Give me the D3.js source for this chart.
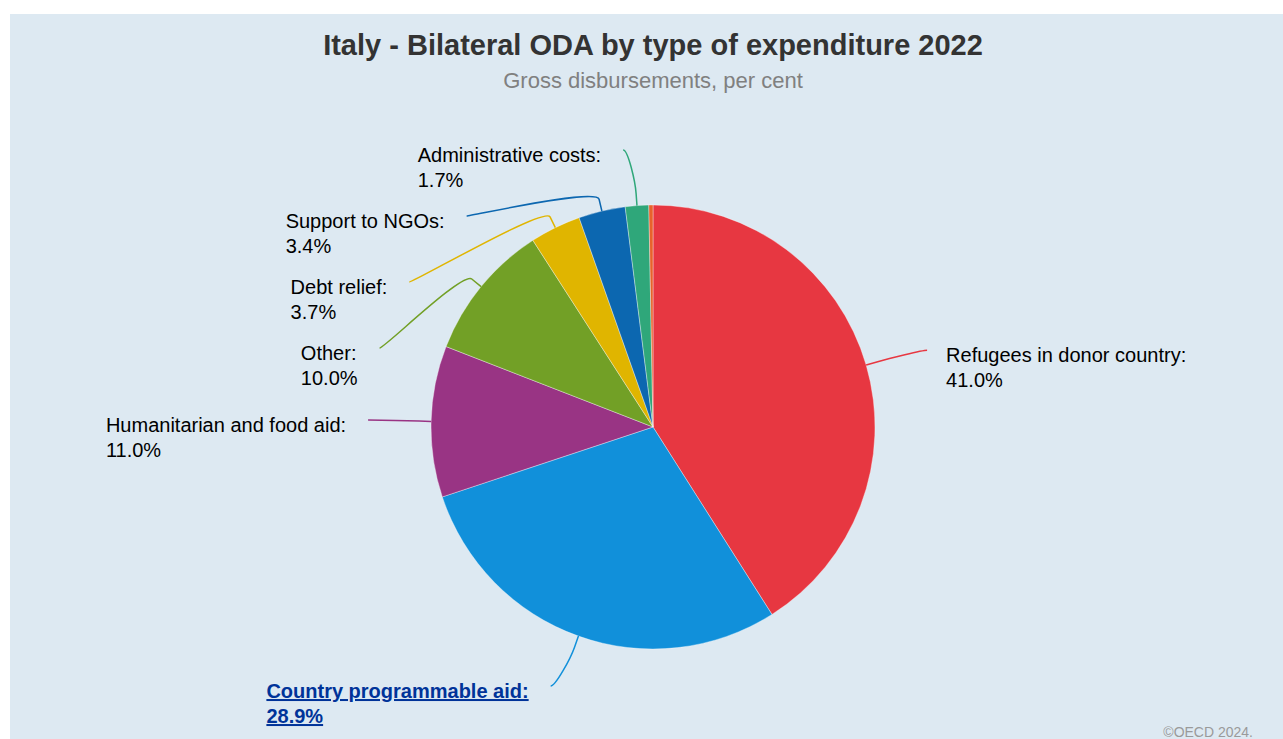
<!DOCTYPE html>
<html>
<head>
<meta charset="utf-8">
<script src="https://cdn.jsdelivr.net/npm/d3@7"></script>
<style>
  html, body { margin: 0; padding: 0; background: #ffffff; overflow: hidden; }
  svg { display: block; }
  text { font-family: "Liberation Sans", Arial, sans-serif; }
</style>
</head>
<body>
<svg id="chart" width="1283" height="739"></svg>
<script>
// Italy – bilateral ODA by type of expenditure, 2022 (gross disbursements, %)
const categories = [
  "Refugees in donor country",
  "Country programmable aid",
  "Humanitarian and food aid",
  "Other",
  "Debt relief",
  "Support to NGOs",
  "Administrative costs",
  null
];
const shares = [41.0, 28.9, 11.0, 10.0, 3.7, 3.4, 1.7, 0.3];
const sliceColors = ["#e73741", "#1190da", "#993484", "#72a026", "#e0b500", "#0c67b0", "#2fa77a", "#e8622c"];
const linkCategory = "Country programmable aid";

const titleText = "Italy - Bilateral ODA by type of expenditure 2022";
const subtitleText = "Gross disbursements, per cent";
const creditText = "\u00A9OECD 2024.";

const svg = d3.select("#chart");

// panel
svg.append("rect")
  .attr("x", 10).attr("y", 14)
  .attr("width", 1300).attr("height", 740)
  .attr("fill", "#dde9f2");

const cx = 653, cy = 427, radius = 222;
const labelRadius = radius + 53;     // ring on which connector ends sit
const labelPad = 10;                 // extra horizontal offset of connector end
const breakOffset = 12;              // crook point just outside the slice
const boxSize = 66;                  // vertical room per two-line label
const topBound = 150, bottomBound = 700;
const lineHeight = 25;

svg.append("text")
  .attr("x", cx).attr("y", 55)
  .attr("text-anchor", "middle")
  .attr("font-size", 29).attr("font-weight", "bold")
  .attr("fill", "#333333")
  .text(titleText);

svg.append("text")
  .attr("x", cx).attr("y", 88)
  .attr("text-anchor", "middle")
  .attr("font-size", 22)
  .attr("fill", "#808080")
  .text(subtitleText);

svg.append("text")
  .attr("x", 1253).attr("y", 737)
  .attr("text-anchor", "end")
  .attr("font-size", 14)
  .attr("fill", "#9a9a9a")
  .text(creditText);

const rows = categories.map((c, i) => ({ name: c, value: shares[i], color: sliceColors[i] }));

const pie = d3.pie().value(d => d.value).sort(null).startAngle(0).endAngle(2 * Math.PI);
const arcs = pie(rows);

const arcGen = d3.arc().innerRadius(0).outerRadius(radius);

const g = svg.append("g");
g.selectAll("path.slice")
  .data(arcs)
  .join("path")
  .attr("class", "slice")
  .attr("transform", `translate(${cx},${cy})`)
  .attr("d", arcGen)
  .attr("fill", d => d.data.color)
  .attr("stroke", "#ffffff")
  .attr("stroke-opacity", 0.6)
  .attr("stroke-width", 0.6);

// polar helper: angle clockwise from 12 o'clock
const at = (a, rho) => ({ x: cx + rho * Math.sin(a), y: cy - rho * Math.cos(a) });

const labelled = arcs.filter(d => d.data.name !== null).map(d => {
  const mid = (d.startAngle + d.endAngle) / 2;
  const natural = at(mid, labelRadius);
  return {
    arc: d, mid,
    left: mid > Math.PI,
    target: natural.y,
    naturalY: natural.y,
    touch: at(mid, radius),
    brk: at(mid, radius + breakOffset)
  };
});

// spread overlapping labels on each side, grouping neighbours around their mean target
function distribute(items) {
  items.sort((a, b) => a.target - b.target);
  let groups = items.map(d => ({ members: [d], pos: d.target }));
  const place = grp => {
    const n = grp.members.length;
    const mean = d3.mean(grp.members, m => m.target);
    grp.pos = Math.max(topBound, Math.min(bottomBound - (n - 1) * boxSize, mean - (n - 1) * boxSize / 2));
  };
  let merged = true;
  while (merged) {
    merged = false;
    groups.forEach(place);
    for (let i = 1; i < groups.length; i++) {
      const a = groups[i - 1], b = groups[i];
      if (a.pos + a.members.length * boxSize > b.pos) {
        a.members = a.members.concat(b.members);
        groups.splice(i, 1);
        merged = true;
        break;
      }
    }
  }
  groups.forEach(grp => grp.members.forEach((m, k) => {
    m.y = grp.pos + k * boxSize;
    m.clamped = grp.pos <= topBound + 0.5 && k === 0;
  }));
}
distribute(labelled.filter(d => d.left));
distribute(labelled.filter(d => !d.left));

labelled.forEach(d => {
  const yForX = d.clamped ? d.naturalY : d.y;
  const dy = Math.max(-labelRadius, Math.min(labelRadius, yForX - cy));
  const half = Math.sqrt(labelRadius * labelRadius - dy * dy);
  d.x = d.left ? cx - half - labelPad : cx + half + labelPad;
});

// connectors
g.selectAll("path.connector")
  .data(labelled)
  .join("path")
  .attr("class", "connector")
  .attr("fill", "none")
  .attr("stroke", d => d.arc.data.color)
  .attr("stroke-width", 1.5)
  .attr("d", d => {
    const p = d3.path();
    p.moveTo(d.x, d.y);
    p.bezierCurveTo(
      d.x + (d.left ? 5 : -5), d.y,
      2 * d.brk.x - d.touch.x, 2 * d.brk.y - d.touch.y,
      d.brk.x, d.brk.y);
    p.lineTo(d.touch.x, d.touch.y);
    return p.toString();
  });

// labels: name on the first line, share on the second
const fmt = d3.format(".1f");
const labels = g.selectAll("g.label")
  .data(labelled)
  .join("g")
  .attr("class", "label");

labels.each(function (d) {
  const isLink = d.arc.data.name === linkCategory;
  const t = d3.select(this).append("text")
    .attr("font-size", 20)
    .attr("font-weight", isLink ? "bold" : "normal")
    .attr("fill", isLink ? "#003399" : "#000000")
    .attr("text-decoration", isLink ? "underline" : null);
  const l1 = t.append("tspan").attr("y", d.y + 12).text(d.arc.data.name + ":");
  const l2 = t.append("tspan").attr("y", d.y + 12 + lineHeight).text(fmt(d.arc.data.value) + "%");
  const w = Math.max(l1.node().getComputedTextLength(), l2.node().getComputedTextLength());
  const x0 = d.left ? d.x - 22 - w : d.x + 19;
  l1.attr("x", x0);
  l2.attr("x", x0);
});
</script>
</body>
</html>
